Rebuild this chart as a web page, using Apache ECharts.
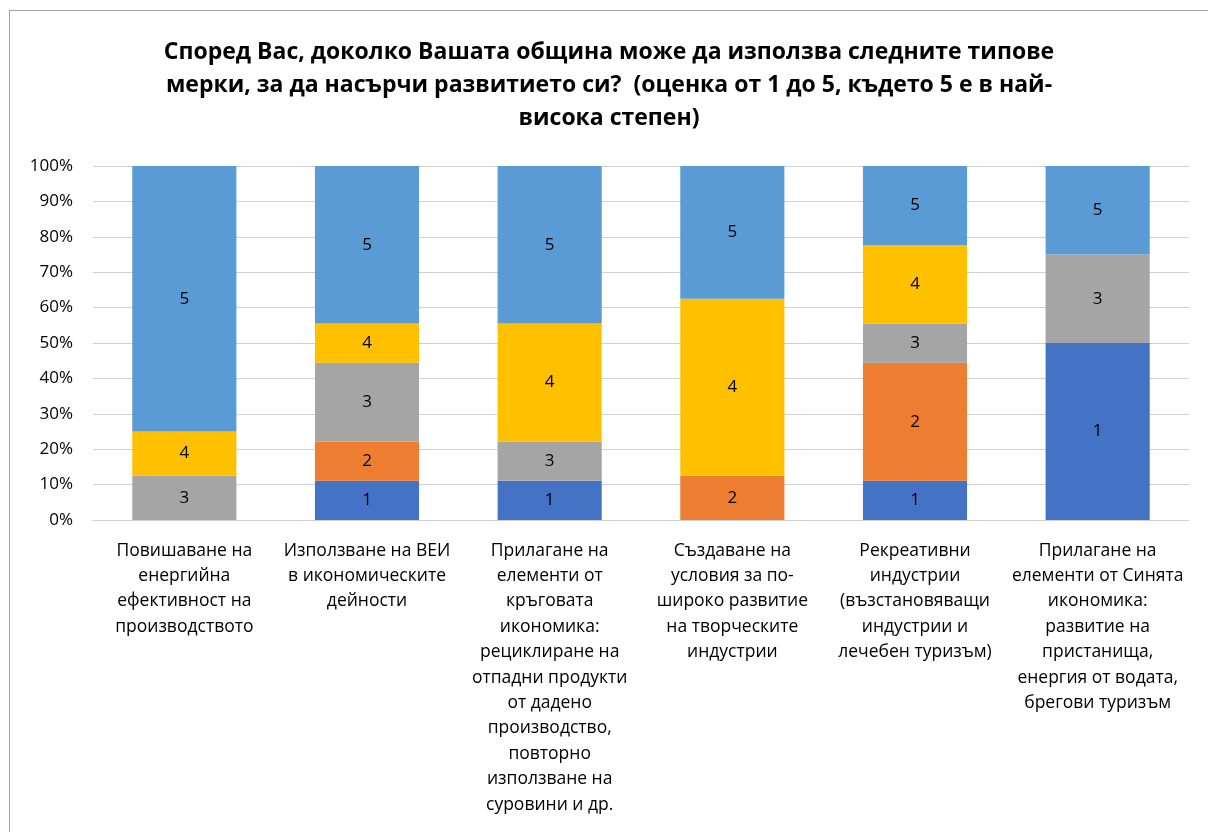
<!DOCTYPE html>
<html>
<head>
<meta charset="utf-8">
<script src="https://cdn.jsdelivr.net/npm/echarts@6/dist/echarts.min.js"></script>
<style>
  html, body { margin: 0; padding: 0; background: #fff; }
  #frame { position: absolute; left: 9px; top: 10px; width: 1215px; height: 840px; border: 1px solid #a6a6a6; box-sizing: border-box; }
  #main { position: absolute; left: 0; top: 0; width: 1208px; height: 832px; }
</style>
</head>
<body>
<div id="frame"></div>
<div id="main"></div>
<script>
// категории (оси X)
var categories = [
  'Повишаване на\nенергийна\nефективност на\nпроизводството',
  'Използване на ВЕИ\nв икономическите\nдейности',
  'Прилагане на\nелементи от\nкръговата\nикономика:\nрециклиране на\nотпадни продукти\nот дадено\nпроизводство,\nповторно\nизползване на\nсуровини и др.',
  'Създаване на\nусловия за по-\nшироко развитие\nна творческите\nиндустрии',
  'Рекреативни\nиндустрии\n(възстановяващи\nиндустрии и\nлечебен туризъм)',
  'Прилагане на\nелементи от Синята\nикономика:\nразвитие на\nпристанища,\nенергия от водата,\nбрегови туризъм'
];

// оценки 1..5, дялове в %
var names = ['1', '2', '3', '4', '5'];
var score1 = [null, 11.1, 11.1, null, 11.1, 50];
var score2 = [null, 11.1, null, 12.5, 33.3, null];
var score3 = [12.5, 22.2, 11.1, null, 11.1, 25];
var score4 = [12.5, 11.1, 33.3, 50, 22.2, null];
var score5 = [75, 44.5, 44.5, 37.5, 22.3, 25];
var colors = ['#4472C4', '#ED7D31', '#A5A5A5', '#FFC000', '#5B9BD5'];

var yTicks = { min: 0, max: 100, interval: 10 };

var title = 'Според Вас, доколко Вашата община може да използва следните типове\nмерки, за да насърчи развитието си?  (оценка от 1 до 5, където 5 е в най-\nвисока степен)';

var chart = echarts.init(document.getElementById('main'));

var allData = [score1, score2, score3, score4, score5];
var series = [];
for (var i = 0; i < names.length; i++) {
  series.push({
    name: names[i],
    type: 'bar',
    stack: 'total',
    barWidth: '57%',
    data: allData[i],
    itemStyle: { color: colors[i] },
    label: {
      show: true,
      position: 'inside',
      color: '#000',
      fontSize: 17,
      fontFamily: 'Open Sans',
      formatter: function (p) { return p.seriesName; }
    }
  });
}

var option = {
  animation: false,
  title: {
    text: title,
    left: 604,
    top: 31,
    textAlign: 'center',
    textStyle: {
      fontSize: 23,
      fontWeight: 'bold',
      fontFamily: 'Open Sans',
      color: '#000',
      lineHeight: 33
    }
  },
  grid: { left: 93, right: 19, top: 166, bottom: 312, containLabel: false },
  xAxis: {
    type: 'category',
    data: categories,
    axisLine: { show: true, lineStyle: { color: '#d0d0d0' } },
    axisTick: { show: false },
    axisLabel: {
      interval: 0,
      color: '#000',
      fontSize: 17.5,
      fontFamily: 'Open Sans',
      lineHeight: 25.4,
      margin: 18,
      verticalAlign: 'top'
    }
  },
  yAxis: {
    type: 'value',
    min: yTicks.min,
    max: yTicks.max,
    interval: yTicks.interval,
    axisLine: { show: false },
    axisTick: { show: false },
    axisLabel: {
      formatter: '{value}%',
      color: '#000',
      fontSize: 17,
      fontFamily: 'Open Sans',
      margin: 20
    },
    splitLine: { lineStyle: { color: '#d0d0d0', width: 1 } }
  },
  series: series
};

chart.setOption(option);
</script>
</body>
</html>
